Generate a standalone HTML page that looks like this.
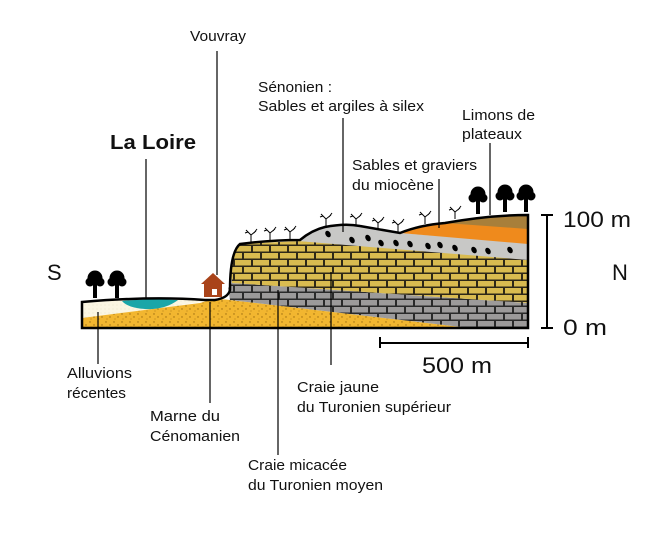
<!DOCTYPE html>
<html><head><meta charset="utf-8"><style>
html,body{margin:0;padding:0;background:#fff;}
svg{display:block;}
text{font-family:"Liberation Sans",sans-serif;fill:#111;}
</style></head><body>
<svg width="661" height="551" viewBox="0 0 661 551" xmlns="http://www.w3.org/2000/svg">
<defs>
<pattern id="byel" width="18" height="14" patternUnits="userSpaceOnUse" x="0" y="245">
<rect width="18" height="14" fill="#2e2818"/>
<rect x="1" y="1" width="16" height="5.5" fill="#d9bb50"/>
<rect x="-8" y="8" width="16" height="5.5" fill="#d9bb50"/>
<rect x="10" y="8" width="16" height="5.5" fill="#d9bb50"/>
</pattern>
<pattern id="bgry" width="18" height="14" patternUnits="userSpaceOnUse" x="0" y="285">
<rect width="18" height="14" fill="#2a2a2a"/>
<rect x="1" y="1" width="16" height="5.5" fill="#9c9a9a"/>
<rect x="-8" y="8" width="16" height="5.5" fill="#9c9a9a"/>
<rect x="10" y="8" width="16" height="5.5" fill="#9c9a9a"/>
</pattern>
<pattern id="sand" width="8" height="8" patternUnits="userSpaceOnUse">
<rect width="8" height="8" fill="#f2b630"/>
<circle cx="2" cy="2" r="0.7" fill="#9a6a10"/>
<circle cx="6" cy="5" r="0.7" fill="#9a6a10"/>
<circle cx="3" cy="7" r="0.5" fill="#9a6a10"/>
</pattern>
<pattern id="cream" width="4" height="4" patternUnits="userSpaceOnUse">
<rect width="4" height="4" fill="#fbf6e2"/>
<circle cx="1" cy="1" r="0.4" fill="#d8cfa8"/>
</pattern>
<g id="tree"><rect x="-2" y="-2" width="4" height="18" fill="#000"/><circle cx="0" cy="-4" r="7.5" fill="#000"/><circle cx="-5" cy="0" r="4.5" fill="#000"/><circle cx="5" cy="0" r="4.5" fill="#000"/></g>
<g id="vine" stroke="#000" stroke-width="1" fill="none"><path d="M0 0 L0 -7 M0 -7 L-5 -12 M0 -7 L5 -11 M-3 -10 L-6 -9 M3 -9 L6 -13"/></g>
</defs>

<path d="M82 302 Q150 297 215 300 L82 320 Z" fill="url(#cream)"/>
<path d="M82 318 L200 303 Q215 298 230 300 L470 328 L82 328 Z" fill="url(#sand)"/>
<path d="M122 301 Q150 298 178 300 Q165 310 145 309 Q128 308 122 301 Z" fill="#1aa6a8"/>
<path d="M228 288 L232 283 L528 303 L528 328 L470 328 L230 300 Z" fill="url(#bgry)"/>
<path d="M232 283 Q229 252 240 244 L300 241 L528 258 L528 303 Z" fill="url(#byel)"/>
<path d="M298 241 Q310 232 322 229 Q340 224 360 227 L400 233 L528 243 L528 260 Z" fill="#c8c8c6"/>
<path d="M400 233 Q420 225 445 223 L528 226 L528 244 Z" fill="#ef8a1c"/>
<path d="M445 223 Q490 215 528 215 L528 229 L445 223 Z" fill="#a87f3a"/>
<g fill="#000">
<ellipse cx="328" cy="234" rx="2.5" ry="3.5" transform="rotate(-30 328 234)"/>
<ellipse cx="352" cy="240" rx="2.5" ry="3.5" transform="rotate(-30 352 240)"/>
<ellipse cx="368" cy="238" rx="2.5" ry="3.5" transform="rotate(-30 368 238)"/>
<ellipse cx="381" cy="243" rx="2.5" ry="3.5" transform="rotate(-30 381 243)"/>
<ellipse cx="396" cy="243" rx="2.5" ry="3.5" transform="rotate(-30 396 243)"/>
<ellipse cx="410" cy="244" rx="2.5" ry="3.5" transform="rotate(-30 410 244)"/>
<ellipse cx="428" cy="246" rx="2.5" ry="3.5" transform="rotate(-30 428 246)"/>
<ellipse cx="440" cy="245" rx="2.5" ry="3.5" transform="rotate(-30 440 245)"/>
<ellipse cx="455" cy="248" rx="2.5" ry="3.5" transform="rotate(-30 455 248)"/>
<ellipse cx="474" cy="250" rx="2.5" ry="3.5" transform="rotate(-30 474 250)"/>
<ellipse cx="488" cy="251" rx="2.5" ry="3.5" transform="rotate(-30 488 251)"/>
<ellipse cx="510" cy="250" rx="2.5" ry="3.5" transform="rotate(-30 510 250)"/>
</g>
<path d="M82 302 Q150 296 205 300 L215 300 Q228 298 230 290 Q230 252 240 244 Q270 240 300 240 Q312 230 325 227 Q345 223 360 226 L400 233 Q420 225 445 223 Q490 215 528 215 L528 328 L82 328 Z" fill="none" stroke="#000" stroke-width="2.5"/>
<path d="M204 297 L204 284 L201 284 L213 273 L225 284 L222 284 L222 297 Z" fill="#a9431a"/>
<rect x="212" y="289" width="5" height="6" fill="#fff"/>
<use href="#tree" x="95" y="282"/><use href="#tree" x="117" y="282"/>
<use href="#tree" x="478" y="198"/><use href="#tree" x="505" y="196"/><use href="#tree" x="526" y="196"/>
<use href="#vine" x="251" y="242"/><use href="#vine" x="270" y="240"/><use href="#vine" x="290" y="239"/>
<use href="#vine" x="326" y="226"/><use href="#vine" x="356" y="226"/><use href="#vine" x="378" y="230"/><use href="#vine" x="398" y="232"/>
<use href="#vine" x="425" y="224"/><use href="#vine" x="455" y="219"/>

<g stroke="#000" stroke-width="1.2">
<line x1="217" y1="51" x2="217" y2="275"/>
<line x1="146" y1="159" x2="146" y2="298"/>
<line x1="343" y1="118" x2="343" y2="232"/>
<line x1="439" y1="179" x2="439" y2="228"/>
<line x1="490" y1="143" x2="490" y2="215"/>
<line x1="98" y1="312" x2="98" y2="364"/>
<line x1="210" y1="302" x2="210" y2="403"/>
<line x1="278" y1="290" x2="278" y2="455"/>
<line x1="331" y1="272" x2="331" y2="365"/>
<line x1="547" y1="215" x2="547" y2="328" stroke-width="2"/>
<line x1="541" y1="215" x2="553" y2="215" stroke-width="2"/>
<line x1="541" y1="328" x2="553" y2="328" stroke-width="2"/>
<line x1="380" y1="343" x2="528" y2="343" stroke-width="2"/>
<line x1="380" y1="337" x2="380" y2="348" stroke-width="2"/>
<line x1="528" y1="337" x2="528" y2="348" stroke-width="2"/>
</g>

<g font-size="15">
<text x="190" y="41" textLength="56" lengthAdjust="spacingAndGlyphs">Vouvray</text>
<text x="258" y="92" textLength="74" lengthAdjust="spacingAndGlyphs">Sénonien :</text>
<text x="258" y="111" textLength="166" lengthAdjust="spacingAndGlyphs">Sables et argiles à silex</text>
<text x="462" y="120" textLength="73" lengthAdjust="spacingAndGlyphs">Limons de</text>
<text x="462" y="139" textLength="60" lengthAdjust="spacingAndGlyphs">plateaux</text>
<text x="352" y="170" textLength="125" lengthAdjust="spacingAndGlyphs">Sables et graviers</text>
<text x="352" y="190" textLength="82" lengthAdjust="spacingAndGlyphs">du miocène</text>
<text x="67" y="378" textLength="65" lengthAdjust="spacingAndGlyphs">Alluvions</text>
<text x="67" y="398" textLength="59" lengthAdjust="spacingAndGlyphs">récentes</text>
<text x="150" y="421" textLength="70" lengthAdjust="spacingAndGlyphs">Marne du</text>
<text x="150" y="441" textLength="90" lengthAdjust="spacingAndGlyphs">Cénomanien</text>
<text x="297" y="392" textLength="82" lengthAdjust="spacingAndGlyphs">Craie jaune</text>
<text x="297" y="412" textLength="154" lengthAdjust="spacingAndGlyphs">du Turonien supérieur</text>
<text x="248" y="470" textLength="99" lengthAdjust="spacingAndGlyphs">Craie micacée</text>
<text x="248" y="490" textLength="135" lengthAdjust="spacingAndGlyphs">du Turonien moyen</text>
</g>
<text x="110" y="149" font-size="20" font-weight="bold" textLength="86" lengthAdjust="spacingAndGlyphs">La Loire</text>
<g font-size="22">
<text x="47" y="280">S</text>
<text x="612" y="280">N</text>
<text x="563" y="227" textLength="68" lengthAdjust="spacingAndGlyphs">100 m</text>
<text x="563" y="335" textLength="44" lengthAdjust="spacingAndGlyphs">0 m</text>
<text x="422" y="373" textLength="70" lengthAdjust="spacingAndGlyphs">500 m</text>
</g>
</svg>
</body></html>
